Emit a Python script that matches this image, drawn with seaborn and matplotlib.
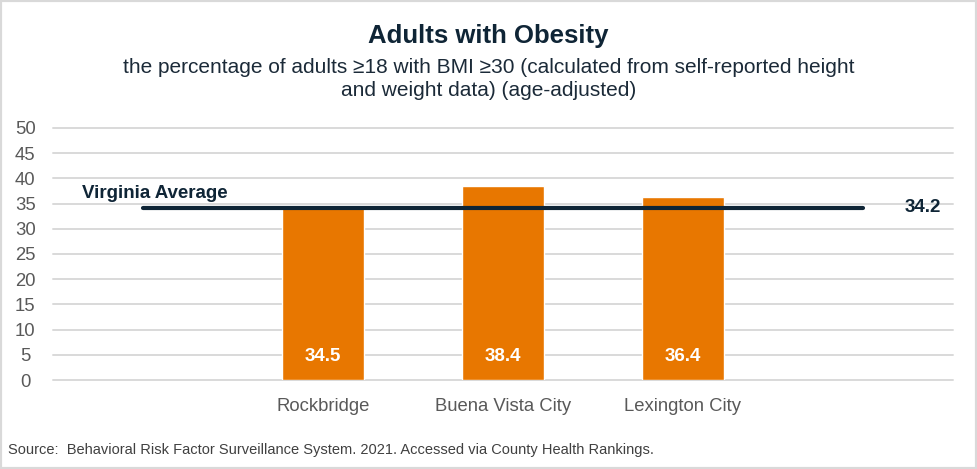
import matplotlib
matplotlib.use("Agg")
import matplotlib.pyplot as plt
import seaborn as sns
import pandas as pd
from matplotlib.patches import Rectangle

categories = ["Rockbridge", "Buena Vista City", "Lexington City"]
values = [34.5, 38.4, 36.4]
slot_order = [" ", "Rockbridge", "Buena Vista City", "Lexington City", "  "]
va_average = 34.2
y_ticks = [0, 5, 10, 15, 20, 25, 30, 35, 40, 45, 50]

title = "Adults with Obesity"
subtitle = "the percentage of adults \u226518 with BMI \u226530 (calculated from self-reported height\nand weight data) (age-adjusted)"
source = "Source:  Behavioral Risk Factor Surveillance System. 2021. Accessed via County Health Rankings."

sns.set_style("white")
plt.rcParams['font.family'] = ['Liberation Sans', 'DejaVu Sans']

df = pd.DataFrame({"category": categories, "value": values})

fig = plt.figure(figsize=(9.77, 4.69), dpi=100)
ax = fig.add_axes([53/977, 1-380/469, 900/977, 252/469])

sns.barplot(data=df, x="category", y="value", order=slot_order, color="#E87700",
            width=0.455, saturation=1, ax=ax, zorder=2)

ax.set_ylim(0, 50)
ax.set_xlim(-0.5, 4.5)
ax.set_yticks(y_ticks)
ax.yaxis.grid(True, color="#D9D9D9", linewidth=1.4, zorder=0)
ax.set_axisbelow(True)
for gl in ax.get_ygridlines():
    gl.set_clip_on(False)
for s in ax.spines.values():
    s.set_visible(False)
ax.set_xlabel("")
ax.set_ylabel("")
ax.set_xticks(range(len(slot_order)))
ax.set_xticklabels([c.strip() for c in slot_order])
ax.tick_params(axis="x", length=0, pad=13, labelsize=13.3, labelcolor="#595959")
ax.tick_params(axis="y", length=0, pad=20, labelsize=13.3, labelcolor="#595959")
for lab in ax.get_yticklabels():
    lab.set_horizontalalignment("center")

# Virginia average line
x0 = 0
x1 = len(slot_order) - 1
ax.plot([x0, x1], [va_average, va_average], color="#0F2536", linewidth=3,
        solid_capstyle="round", zorder=3)
ax.text(x0 - 0.34, va_average + 1.2, "Virginia Average", fontsize=13.5, fontweight="bold",
        color="#0F2536", ha="left", va="bottom")
ax.text(x1 + 0.33, va_average, f"{va_average}", fontsize=13.5, fontweight="bold",
        color="#0F2536", ha="center", va="center")

# value labels
for cat, v in zip(categories, values):
    xi = slot_order.index(cat)
    ax.text(xi, 4.6, f"{v}", ha="center", va="center", color="white",
            fontsize=13.5, fontweight="bold", zorder=4)

fig.text(0.5, 1-36/469, title, ha="center", va="center", fontsize=18.5,
         fontweight="bold", color="#0F2536", family=['Liberation Sans Narrow', 'Liberation Sans', 'DejaVu Sans'])
fig.text(0.5, 1-79/469, subtitle, ha="center", va="center", fontsize=15,
         color="#1B2A38", linespacing=1.25, family=['Liberation Sans Narrow', 'Liberation Sans', 'DejaVu Sans'])
fig.text(8/977, 1-450/469, source, ha="left", va="center", fontsize=10.5,
         color="#404040", family=['Liberation Sans Narrow', 'Liberation Sans', 'DejaVu Sans'])

# figure border
fig.patches.append(Rectangle((0, 0), 1, 1, transform=fig.transFigure, fill=False,
                             edgecolor="#D9D9D9", linewidth=3))

fig.savefig("out.png", dpi=100)
